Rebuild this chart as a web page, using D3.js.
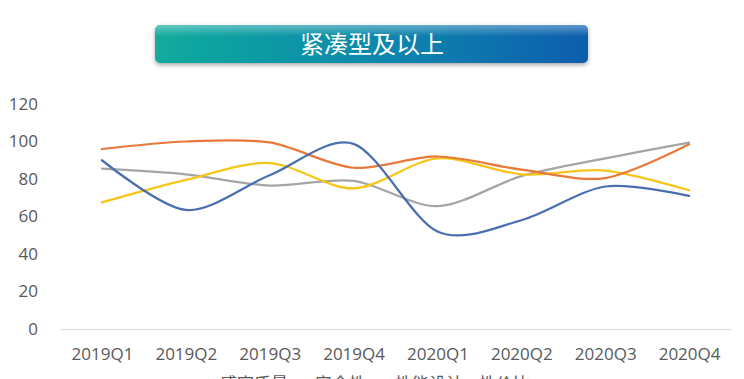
<!DOCTYPE html>
<html lang="zh">
<head>
<meta charset="UTF-8">
<title>紧凑型及以上</title>
<script src="https://d3js.org/d3.v7.min.js"></script>
<style>
  body { margin: 0; background: #fff; }
  text { font-family: "Noto Sans CJK SC", "Open Sans", sans-serif; }
</style>
</head>
<body>
<div id="chart"></div>
<script>
  const W = 744, H = 379;
  const margin = {top: 104, right: 13, bottom: 50, left: 60};

  const quarters = ["2019Q1", "2019Q2", "2019Q3", "2019Q4", "2020Q1", "2020Q2", "2020Q3", "2020Q4"];
  const seriesNames = ["感官质量", "安全性", "性能设计", "性价比"];
  const colors = ["#f5c518", "#e8793a", "#4a6fb0", "#a5a5a5"];

  const ganguan = [67.5, 79.5, 88.5, 75, 91, 82.5, 84.5, 74];
  const anquan = [96, 100, 99.5, 86, 92, 85, 80.5, 98.5];
  const xingneng = [90, 63.5, 82, 98.7, 52, 58, 76, 71];
  const xingjiabi = [85.5, 82.5, 76.5, 79, 65.5, 81.5, 91, 99.4];
  const yTicks = [0, 20, 40, 60, 80, 100, 120];

  const allSeries = [ganguan, anquan, xingneng, xingjiabi];
  // draw order: gray, yellow, orange, blue (blue on top)
  const drawOrder = [3, 0, 1, 2];

  const svg = d3.select("#chart").append("svg")
    .attr("width", W).attr("height", H);

  // Title banner
  const defs = svg.append("defs");
  const grad = defs.append("linearGradient").attr("id", "titleGrad")
    .attr("x1", "0%").attr("x2", "100%").attr("y1", "0%").attr("y2", "0%");
  grad.append("stop").attr("offset", "0%").attr("stop-color", "#12ab9c");
  grad.append("stop").attr("offset", "55%").attr("stop-color", "#0d85ad");
  grad.append("stop").attr("offset", "100%").attr("stop-color", "#0a5eae");
  const shade = defs.append("filter").attr("id", "shadow")
    .attr("x", "-5%").attr("y", "-20%").attr("width", "110%").attr("height", "160%");
  shade.append("feDropShadow").attr("dx", 0).attr("dy", 2).attr("stdDeviation", 2)
    .attr("flood-color", "#000").attr("flood-opacity", 0.35);
  const gloss = defs.append("linearGradient").attr("id", "gloss")
    .attr("x1", "0%").attr("x2", "0%").attr("y1", "0%").attr("y2", "100%");
  gloss.append("stop").attr("offset", "0%").attr("stop-color", "#fff").attr("stop-opacity", 0.35);
  gloss.append("stop").attr("offset", "30%").attr("stop-color", "#fff").attr("stop-opacity", 0.0);

  svg.append("rect")
    .attr("x", 155).attr("y", 25).attr("width", 433).attr("height", 38).attr("rx", 5)
    .attr("fill", "url(#titleGrad)").attr("filter", "url(#shadow)");
  svg.append("rect")
    .attr("x", 155).attr("y", 25).attr("width", 433).attr("height", 38).attr("rx", 5)
    .attr("fill", "url(#gloss)");
  svg.append("text")
    .attr("x", 372).attr("y", 53)
    .attr("text-anchor", "middle")
    .attr("fill", "#fff")
    .style("font-size", "24px")
    .text("紧凑型及以上");

  const g = svg.append("g").attr("transform", `translate(${margin.left},${margin.top})`);
  const innerW = W - margin.left - margin.right;
  const innerH = 329 - margin.top;

  const x = d3.scalePoint().domain(quarters).range([0, innerW]).padding(0.5);
  const y = d3.scaleLinear().domain([0, 120]).range([innerH, 0]);

  // y axis labels
  const yAxis = g.append("g")
    .call(d3.axisLeft(y).tickValues(yTicks).tickSize(0).tickPadding(22));
  yAxis.select(".domain").remove();
  yAxis.selectAll("text").attr("fill", "#595959").style("font-size", "17px")
    .style("font-family", "'Open Sans', sans-serif");

  // x axis
  const xAxis = g.append("g").attr("transform", `translate(0,${innerH})`)
    .call(d3.axisBottom(x).tickSize(0).tickPadding(19));
  xAxis.select(".domain").attr("stroke", "#d9d9d9").attr("stroke-width", 1);
  xAxis.selectAll("text").attr("fill", "#595959").style("font-size", "17px")
    .style("font-family", "'Open Sans', sans-serif");

  const line = d3.line()
    .x((d, i) => x(quarters[i]))
    .y(d => y(d))
    .curve(d3.curveCardinal.tension(0.1));

  drawOrder.forEach(k => {
    g.append("path")
      .datum(allSeries[k])
      .attr("fill", "none")
      .attr("stroke", colors[k])
      .attr("stroke-width", 2.25)
      .attr("stroke-linecap", "round")
      .attr("d", line);
  });

  // legend (mostly cut off by the bottom edge, as in the original)
  const legendX = [193, 288, 368, 452];
  const legend = svg.append("g");
  seriesNames.forEach((name, i) => {
    legend.append("line")
      .attr("x1", legendX[i]).attr("x2", legendX[i] + 20)
      .attr("y1", 384).attr("y2", 384)
      .attr("stroke", colors[i]).attr("stroke-width", 2.25);
    legend.append("text")
      .attr("x", legendX[i] + 27).attr("y", 390)
      .attr("fill", "#595959")
      .style("font-size", "17px")
      .text(name);
  });
</script>
</body>
</html>
